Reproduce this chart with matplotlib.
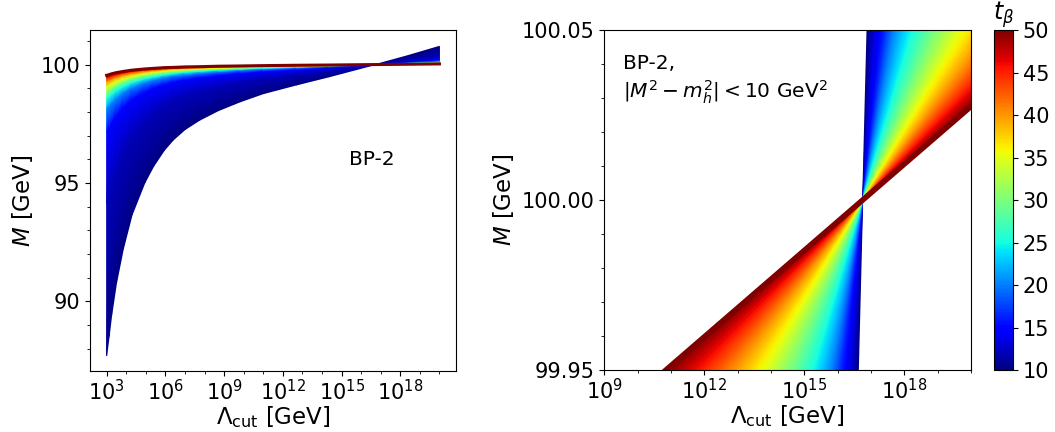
import numpy as np
import matplotlib
matplotlib.use("Agg")
import matplotlib.pyplot as plt
from matplotlib import ticker

# --------------------------------------------------
# Data
# --------------------------------------------------

# left panel: t_beta rows, log10(Lambda_cut / GeV) columns, M [GeV] table
tb_left = [10, 12, 15, 20, 25, 30, 35, 40, 45, 50]
log_lam_left = [3.0, 3.13, 3.25, 3.5, 3.85, 4.3, 4.95, 5.4, 5.95, 6.4,
                7.0, 7.75, 8.7, 9.8, 11.0, 12.7, 14.35, 16.73, 18.4, 20.0]
M_left = [
    [87.70, 88.52, 89.37, 90.75, 92.20, 93.65, 95.00, 95.70, 96.38, 96.81,
     97.25, 97.65, 98.05, 98.42, 98.77, 99.14, 99.48, 100.00, 100.38, 100.77],
    [94.10, 94.49, 94.90, 95.56, 96.26, 96.95, 97.60, 97.94, 98.26, 98.47,
     98.68, 98.87, 99.06, 99.24, 99.41, 99.59, 99.75, 100.00, 100.18, 100.37],
    [97.17, 97.36, 97.56, 97.87, 98.21, 98.54, 98.85, 99.01, 99.17, 99.27,
     99.37, 99.46, 99.55, 99.64, 99.72, 99.80, 99.88, 100.00, 100.09, 100.18],
    [98.13, 98.26, 98.38, 98.59, 98.81, 99.04, 99.24, 99.35, 99.45, 99.52,
     99.58, 99.64, 99.70, 99.76, 99.81, 99.87, 99.92, 100.00, 100.06, 100.12],
    [98.55, 98.65, 98.75, 98.91, 99.08, 99.25, 99.41, 99.49, 99.57, 99.62,
     99.68, 99.72, 99.77, 99.81, 99.855, 99.90, 99.94, 100.00, 100.045, 100.09],
    [98.83, 98.91, 98.99, 99.12, 99.26, 99.40, 99.525, 99.59, 99.66, 99.70,
     99.74, 99.78, 99.815, 99.85, 99.88, 99.92, 99.95, 100.00, 100.036, 100.073],
    [99.08, 99.14, 99.20, 99.31, 99.415, 99.52, 99.625, 99.68, 99.73, 99.76,
     99.79, 99.82, 99.85, 99.88, 99.91, 99.935, 99.96, 100.00, 100.029, 100.058],
    [99.29, 99.33, 99.38, 99.46, 99.55, 99.63, 99.71, 99.75, 99.79, 99.815,
     99.84, 99.86, 99.89, 99.91, 99.93, 99.95, 99.97, 100.00, 100.022, 100.045],
    [99.43, 99.47, 99.51, 99.57, 99.64, 99.71, 99.77, 99.80, 99.83, 99.85,
     99.87, 99.89, 99.91, 99.93, 99.94, 99.96, 99.976, 100.00, 100.018, 100.035],
    [99.545, 99.575, 99.61, 99.66, 99.71, 99.765, 99.815, 99.84, 99.87, 99.88,
     99.90, 99.91, 99.93, 99.94, 99.955, 99.97, 99.98, 100.00, 100.014, 100.028],
]

# right panel (zoom near M = 100): every t_beta line runs through one point;
# for each t_beta, log10(Lambda) where the line meets M = 99.95 and M = 100.05
tb_right = list(range(10, 51))
lam_cross, M_cross = 16.75, 100.0
M_low, M_high = 99.95, 100.05
lam_at_low = [16.62, 16.56, 16.49, 16.41, 16.32, 16.23, 16.14, 16.06, 15.99, 15.91,
              15.83, 15.73, 15.63, 15.51, 15.39, 15.27, 15.14, 15.00, 14.86, 14.72,
              14.58, 14.43, 14.28, 14.13, 13.98, 13.82, 13.64, 13.46, 13.28, 13.09,
              12.90, 12.72, 12.54, 12.35, 12.15, 11.95, 11.73, 11.51, 11.29, 11.07,
              10.85]
lam_at_high = [16.88, 16.94, 17.01, 17.09, 17.18, 17.27, 17.36, 17.44, 17.51, 17.59,
               17.67, 17.77, 17.87, 17.99, 18.11, 18.23, 18.36, 18.50, 18.64, 18.78,
               18.92, 19.07, 19.22, 19.37, 19.52, 19.68, 19.86, 20.04, 20.22, 20.41,
               20.60, 20.78, 20.96, 21.15, 21.35, 21.55, 21.77, 21.99, 22.21, 22.43,
               22.65]

tb_ticks = [10, 15, 20, 25, 30, 35, 40, 45, 50]

# --------------------------------------------------
# Plot (x axis is log10(Lambda), labelled as powers of ten)
# --------------------------------------------------

cmap = plt.get_cmap("jet")
norm = matplotlib.colors.Normalize(vmin=10, vmax=50)

fig = plt.figure(figsize=(10.55, 4.32), dpi=100)
ax1 = fig.add_axes([0.0853, 0.141, 0.347, 0.789])
ax2 = fig.add_axes([0.5728, 0.1435, 0.3476, 0.787])
cax = fig.add_axes([0.942, 0.1435, 0.018, 0.787])

# ---- left panel: band from the (t_beta, Lambda) table
M_arr = np.array(M_left)
nr, nc = M_arr.shape
X = np.tile(np.array(log_lam_left, dtype=float), (nr, 1))
C = np.tile(np.array(tb_left, dtype=float)[:, None], (1, nc))
idx = np.arange(nr * nc).reshape(nr, nc)
tris = []
for i in range(nr - 1):
    for j in range(nc - 1):
        a, b = idx[i, j], idx[i, j + 1]
        c, d = idx[i + 1, j + 1], idx[i + 1, j]
        tris.append([a, b, c])
        tris.append([a, c, d])
ax1.tripcolor(X.ravel(), M_arr.ravel(), np.array(tris), C.ravel(),
              cmap=cmap, norm=norm, shading="gouraud")
ax1.plot(X[-1], M_arr[-1], color=cmap(1.0), lw=2.2)

# ---- right panel: fan of t_beta lines around the crossing point
n = len(tb_right)
tb_r = np.array(tb_right, dtype=float)
xs = np.concatenate([lam_at_low, lam_at_high, np.full(n - 1, lam_cross)])
ys = np.concatenate([np.full(n, M_low), np.full(n, M_high), np.full(n - 1, M_cross)])
cs = np.concatenate([tb_r, tb_r, 0.5 * (tb_r[:-1] + tb_r[1:])])
tris_r = []
for i in range(n - 1):
    tris_r.append([i, i + 1, 2 * n + i])
    tris_r.append([n + i, n + i + 1, 2 * n + i])
ax2.tripcolor(xs, ys, np.array(tris_r), cs, cmap=cmap, norm=norm, shading="gouraud")
ax2.plot([lam_at_low[-1], lam_at_high[-1]], [M_low, M_high], color=cmap(1.0), lw=4)


def pow10(v, pos):
    return r"$\mathdefault{10^{%d}}$" % round(v)


# left panel axes
ax1.set_xlim(2.15, 20.85)
ax1.set_ylim(87.05, 101.45)
ax1.set_xticks([3, 6, 9, 12, 15, 18])
ax1.set_xticks(np.arange(3, 21), minor=True)
ax1.set_yticks([90, 95, 100])
ax1.yaxis.set_minor_locator(ticker.MultipleLocator(1))
ax1.text(0.77, 0.62, "BP-2", transform=ax1.transAxes, fontsize=14.5,
         ha="center", va="center")

# right panel axes
ax2.set_xlim(9, 20)
ax2.set_ylim(99.95, 100.05)
ax2.set_xticks([9, 12, 15, 18])
ax2.set_xticks(np.arange(9, 21), minor=True)
ax2.set_yticks([99.95, 100.0, 100.05])
ax2.yaxis.set_major_formatter(ticker.FormatStrFormatter("%.2f"))
ax2.yaxis.set_minor_locator(ticker.MultipleLocator(0.01))
ax2.text(0.052, 0.93, "BP-2,\n" + r"$|M^2-m_h^2|<10$ GeV$^2$",
         transform=ax2.transAxes, fontsize=14.5, ha="left", va="top",
         linespacing=1.3)

for ax in (ax1, ax2):
    ax.xaxis.set_major_formatter(ticker.FuncFormatter(pow10))
    ax.set_xlabel(r"$\Lambda_{\rm cut}$ [GeV]", fontsize=16.5, labelpad=0)
    ax.set_ylabel(r"$M$ [GeV]", fontsize=16.5, labelpad=4)
    ax.tick_params(labelsize=15)
    ax.tick_params(axis="x", pad=2)

# colorbar
sm = matplotlib.cm.ScalarMappable(cmap=cmap, norm=norm)
cb = fig.colorbar(sm, cax=cax, ticks=tb_ticks)
cb.ax.tick_params(labelsize=15)
cax.set_title(r"$t_\beta$", fontsize=17, pad=4)

fig.savefig("out.png", dpi=100)
